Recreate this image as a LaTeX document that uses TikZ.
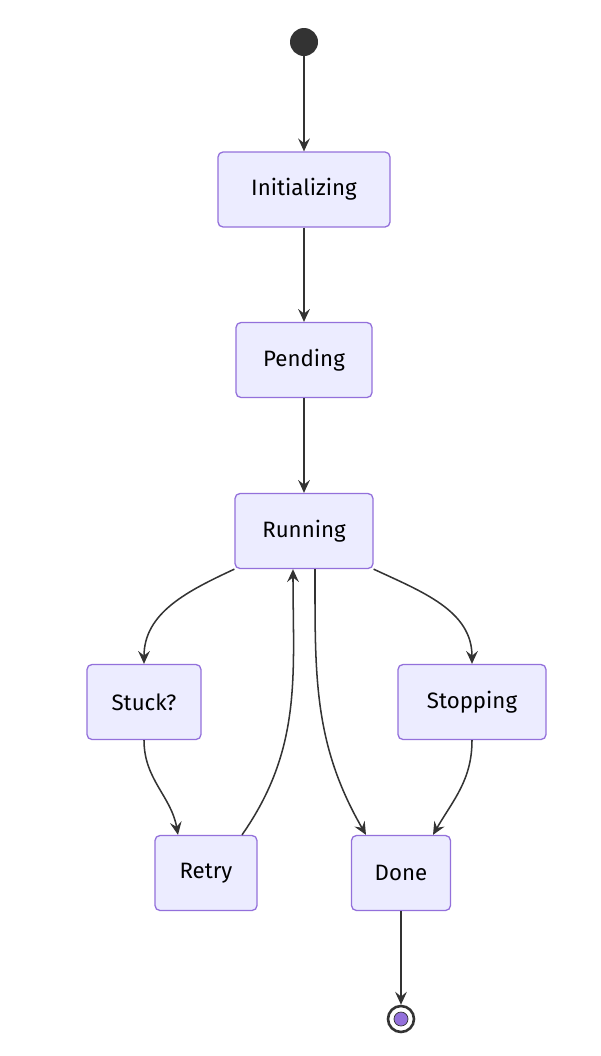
\documentclass[tikz,border=0pt]{standalone}
\usepackage{fontspec}
\setmainfont{Fira Sans}
\usetikzlibrary{arrows.meta}

\definecolor{stfill}{HTML}{ECECFF}
\definecolor{stline}{HTML}{9370DB}
\definecolor{edge}{HTML}{333333}

\begin{document}
\begin{tikzpicture}[x=0.03cm,y=-0.03cm,
  state/.style={draw=stline,fill=stfill,line width=1.1pt,rounded corners=0.15cm,
    minimum height=2.25cm,inner sep=0pt,font=\fontsize{19}{22}\selectfont},
  flow/.style={draw=edge,line width=1.3pt,-{Stealth[length=11pt,width=10pt,inset=4pt]}}]
\useasboundingbox (0,0) rectangle (601,1056);

% states
\node[circle,fill=edge,minimum size=0.84cm,inner sep=0pt] (start) at (304,42) {};
\node[state,minimum width=5.16cm] (init) at (304,189.5) {Initializing};
\node[state,minimum width=4.08cm] (pend) at (304,360) {Pending};
\node[state,minimum width=4.14cm] (run) at (304,531) {Running};
\node[state,minimum width=3.42cm] (stuck) at (144,702) {Stuck?};
\node[state,minimum width=4.44cm] (stop) at (472,702) {Stopping};
\node[state,minimum width=3.06cm] (retry) at (206,873) {Retry};
\node[state,minimum width=2.97cm] (done) at (401,873) {Done};
\node[circle,draw=edge,line width=2.2pt,fill=white,minimum size=0.78cm,inner sep=0pt] (fin) at (401,1019) {};
\node[circle,fill=stline,draw=edge,line width=0.6pt,minimum size=0.42cm,inner sep=0pt] at (fin) {};

% transitions
\draw[flow] (start) -- (init);
\draw[flow] (init) -- (pend);
\draw[flow] (pend) -- (run);
\draw[flow] (run.south west) to[out=205,in=90] (stuck.north);
\draw[flow] (run.south east) to[out=-25,in=90] (stop.north);
\draw[flow] (stuck.south) to[out=-90,in=100] ([xshift=-0.84cm]retry.north);
\draw[flow] ([xshift=1.08cm]retry.north) to[out=55,in=-90] ([xshift=-0.33cm]run.south);
\draw[flow] ([xshift=0.33cm]run.south) to[out=-90,in=120] ([xshift=-1.05cm]done.north);
\draw[flow] (stop.south) to[out=-90,in=60] ([xshift=0.96cm]done.north);
\draw[flow] (done) -- (fin);
\end{tikzpicture}
\end{document}
